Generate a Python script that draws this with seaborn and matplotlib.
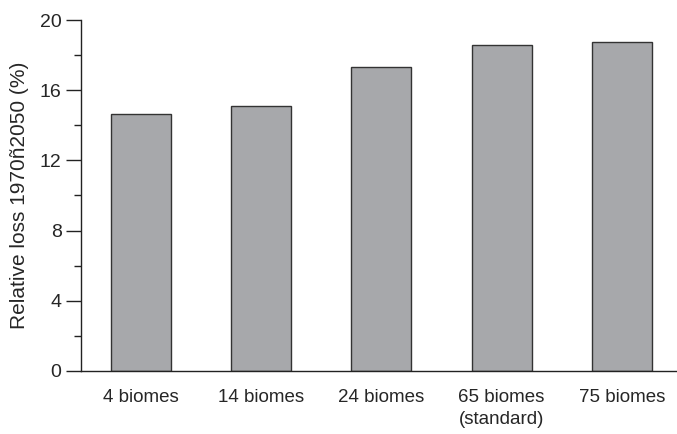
import pandas as pd
import seaborn as sns
import matplotlib.pyplot as plt
from matplotlib.ticker import MultipleLocator

# Data
categories = ["4 biomes", "14 biomes", "24 biomes", "65 biomes\n(standard)", "75 biomes"]
loss = [14.65, 15.1, 17.35, 18.55, 18.75]

df = pd.DataFrame({"Scenario": categories, "Loss": loss})

sns.set_theme(style="ticks")
plt.rcParams['font.family'] = ['Liberation Sans', 'DejaVu Sans']

fig = plt.figure(figsize=(6.77, 4.34), dpi=100)
ax = fig.add_axes([0.1196, 0.1452, 0.8804, 0.8087])

sns.barplot(data=df, x="Scenario", y="Loss", color="#a7a8ab", width=0.5,
            edgecolor="#333333", linewidth=1.0, saturation=1, ax=ax)

ax.set_ylim(0, 20)
ax.set_xlim(-0.5, 4.46)
ax.yaxis.set_major_locator(MultipleLocator(4))
ax.yaxis.set_minor_locator(MultipleLocator(2))
ax.tick_params(axis="y", which="major", length=11, width=1, labelsize=14, color="#222222", pad=3)
ax.tick_params(axis="y", which="minor", length=5, width=1, color="#222222")
ax.tick_params(axis="x", length=0, labelsize=13.5, pad=13)
for lbl in ax.get_xticklabels():
    lbl.set_linespacing(1.35)

for s in ["top", "right"]:
    ax.spines[s].set_visible(False)
for s in ["left", "bottom"]:
    ax.spines[s].set_color("#222222")
    ax.spines[s].set_linewidth(1.0)

ax.set_xlabel("")
ax.set_ylabel("Relative loss 1970ñ2050 (%)", fontsize=15, labelpad=8)

fig.savefig("out.png", dpi=100)
